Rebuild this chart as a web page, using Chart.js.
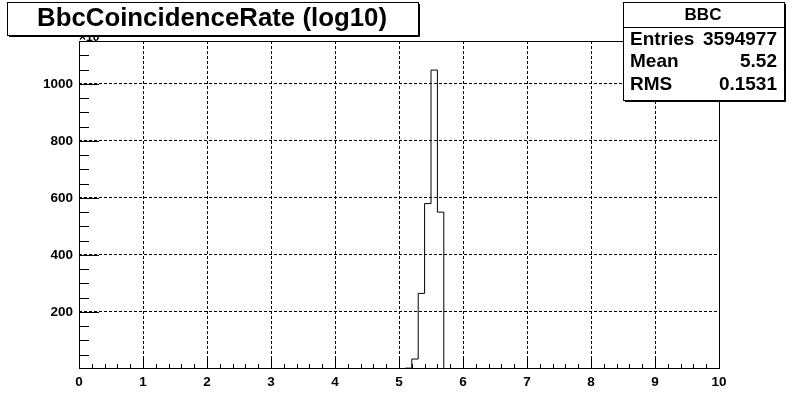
<html>
<head>
  <meta charset="utf-8">
  <style>
    html, body { margin: 0; padding: 0; background: #fff; }
    canvas { display: block; }
  </style>
</head>
<body>
  <canvas id="hist" width="799" height="412"></canvas>
  <script src="https://cdn.jsdelivr.net/npm/chart.js@4.4.1/dist/chart.umd.min.js"></script>
  <script>
    // histogram contents (counts in units of 10^3), only non-empty bins
    const binLowEdges = [5.1, 5.2, 5.3, 5.4, 5.5, 5.6];
    const binCounts = [3, 35, 265, 580, 1048, 550];
    const binWidth = 0.1;
    const xRange = [0, 10];
    const yMax = 1150;
    const xTicks = [0, 1, 2, 3, 4, 5, 6, 7, 8, 9, 10];
    const yTicks = [200, 400, 600, 800, 1000];
    const xMinorStep = 0.2;
    const yMinorStep = 50;

    const histTitle = 'BbcCoincidenceRate (log10)';
    const statsName = 'BBC';
    const statsRows = [['Entries', '3594977'], ['Mean', '5.52'], ['RMS', '0.1531']];

    const FONT = '"Liberation Sans", Arial, sans-serif';

    // outline of the histogram, one point per bin low edge
    const points = [{ x: xRange[0], y: 0 }];
    binLowEdges.forEach((e, i) => points.push({ x: e, y: binCounts[i] }));
    points.push({ x: binLowEdges[binLowEdges.length - 1] + binWidth, y: 0 });
    points.push({ x: xRange[1], y: 0 });

    function fitText(ctx, text, x, y, size, width, align) {
      ctx.save();
      ctx.font = 'bold ' + size + 'px ' + FONT;
      const w = ctx.measureText(text).width;
      const sx = width ? width / w : 1;
      ctx.translate(x, y);
      ctx.scale(sx, 1);
      ctx.textAlign = align || 'left';
      ctx.textBaseline = 'middle';
      ctx.fillText(text, 0, 0);
      ctx.restore();
    }

    function box(ctx, x0, y0, x1, y1) {
      ctx.fillStyle = '#fff';
      ctx.fillRect(x0, y0, x1 - x0, y1 - y0);
      ctx.strokeStyle = '#000';
      ctx.lineWidth = 1;
      ctx.strokeRect(x0 + 0.5, y0 + 0.5, x1 - x0, y1 - y0);
      // shadow
      ctx.beginPath();
      ctx.moveTo(x0 + 2, y1 + 1.5);
      ctx.lineTo(x1 + 1.5, y1 + 1.5);
      ctx.lineTo(x1 + 1.5, y0 + 2);
      ctx.stroke();
    }

    const rootFrame = {
      id: 'rootFrame',
      afterDraw(chart) {
        const ctx = chart.ctx;
        const a = chart.chartArea;
        const xs = chart.scales.x, ys = chart.scales.y;
        ctx.save();
        ctx.strokeStyle = '#000';
        ctx.lineWidth = 1;
        // frame
        ctx.strokeRect(a.left + 0.5, a.top + 0.5, a.right - a.left, a.bottom - a.top - 1);
        // ticks drawn inside the frame
        ctx.beginPath();
        for (let v = xRange[0]; v <= xRange[1] + 1e-9; v += xMinorStep) {
          const px = Math.round(xs.getPixelForValue(v)) + 0.5;
          const major = Math.abs(v - Math.round(v)) < 1e-6;
          ctx.moveTo(px, a.bottom);
          ctx.lineTo(px, a.bottom - (major ? 10 : 5));
        }
        for (let v = yMinorStep; v <= yMax; v += yMinorStep) {
          const py = Math.round(ys.getPixelForValue(v)) + 0.5;
          const major = v % 200 === 0;
          ctx.moveTo(a.left, py);
          ctx.lineTo(a.left + (major ? 20 : 10), py);
        }
        ctx.stroke();

        // axis multiplier, mostly hidden by the title box
        ctx.fillStyle = '#000';
        ctx.font = 'bold 12px ' + FONT;
        ctx.textBaseline = 'alphabetic';
        ctx.fillText('\u00d710\u00b3', 79, 41);

        // title box
        box(ctx, 7, 2, 418, 35);
        ctx.fillStyle = '#000';
        fitText(ctx, histTitle, 212, 19, 25, 350, 'center');

        // stats box
        box(ctx, 623, 2, 784, 100);
        ctx.fillStyle = '#000';
        fitText(ctx, statsName, 703, 15, 17, 0, 'center');
        ctx.beginPath();
        ctx.moveTo(623, 27.5);
        ctx.lineTo(784, 27.5);
        ctx.stroke();
        const rowY = [40, 62, 85];
        statsRows.forEach((r, i) => {
          fitText(ctx, r[0], 630, rowY[i], 19, 0, 'left');
          fitText(ctx, r[1], 777, rowY[i], 19, 0, 'right');
        });
        ctx.restore();
      }
    };

    new Chart(document.getElementById('hist'), {
      type: 'line',
      data: {
        datasets: [{
          data: points,
          stepped: 'before',
          borderColor: '#000',
          borderWidth: 1,
          pointRadius: 0,
          fill: false,
        }],
      },
      options: {
        responsive: false,
        animation: false,
        layout: { padding: { top: 41, right: 80, left: 0, bottom: 0 } },
        plugins: {
          legend: { display: false },
          tooltip: { enabled: false },
        },
        scales: {
          x: {
            type: 'linear',
            min: xRange[0],
            max: xRange[1],
            afterBuildTicks: s => { s.ticks = xTicks.map(v => ({ value: v })); },
            afterFit: s => { s.height = 43; },
            grid: { color: '#000', lineWidth: 1, drawTicks: false },
            border: { display: false, dash: [3, 2] },
            ticks: {
              padding: 5,
              color: '#000',
              maxRotation: 0,
              autoSkip: false,
              callback: v => String(v),
              font: { family: FONT, size: 13.5, weight: 'bold' },
            },
          },
          y: {
            type: 'linear',
            min: 0,
            max: yMax,
            afterBuildTicks: s => { s.ticks = yTicks.map(v => ({ value: v })); },
            afterFit: s => { s.width = 79; },
            grid: { color: '#000', lineWidth: 1, drawTicks: false },
            border: { display: false, dash: [3, 2] },
            ticks: {
              padding: 6,
              color: '#000',
              autoSkip: false,
              callback: v => String(v),
              font: { family: FONT, size: 13.5, weight: 'bold' },
            },
          },
        },
      },
      plugins: [rootFrame],
    });
  </script>
</body>
</html>
